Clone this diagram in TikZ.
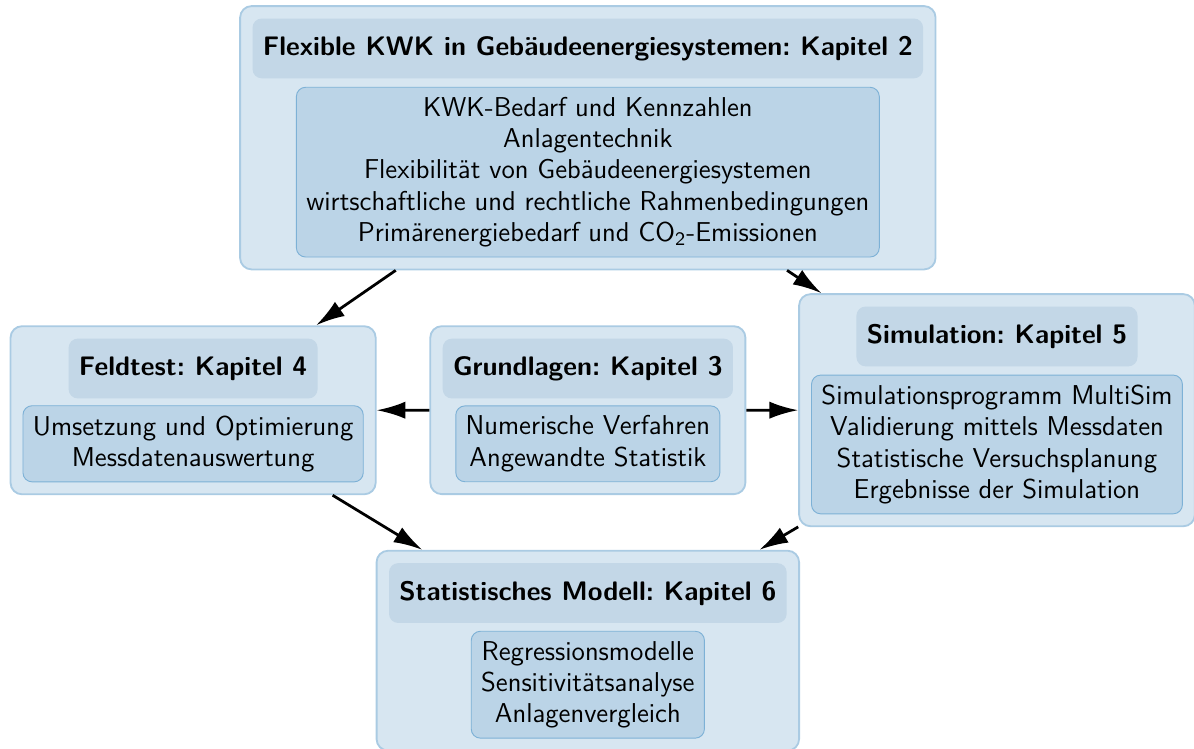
\documentclass[tikz,border=0pt]{standalone}
\usepackage{fontspec}
\usepackage{tikz}
\usetikzlibrary{arrows.meta,fit,backgrounds}
\definecolor{kapfill}{HTML}{D7E6F1}
\definecolor{kapline}{HTML}{AACBE3}
\definecolor{titfill}{HTML}{C3D7E7}
\definecolor{inhfill}{HTML}{BBD4E7}
\definecolor{inhline}{HTML}{7DB1D6}

\begin{document}
\begin{tikzpicture}[
    font=\sffamily\frenchspacing\fontsize{11.85}{13.6}\selectfont,
    kaptitel/.style={fill=titfill,rounded corners=4pt,inner xsep=4.5pt,minimum height=26pt,font=\sffamily\bfseries\frenchspacing\fontsize{11.65}{13.6}\selectfont},
    inhalt/.style={fill=inhfill,draw=inhline,rounded corners=4pt,inner sep=4.3pt,align=center},
    kapbox/.style={fill=kapfill,draw=kapline,line width=0.8pt,rounded corners=5pt,inner sep=5.2pt},
    pfeil/.style={-{Latex[length=12.5pt,width=7.5pt]},line width=1.2pt}]
    \useasboundingbox (0,0) rectangle (18.24,11.44);
    % ===== Kapitel 2 (oben) =====
    \node[kaptitel] (t2) at (8.98,10.70) {Flexible KWK in Gebäudeenergiesystemen: Kapitel 2};
    \node[inhalt] (i2) at (8.98,8.81) {KWK-Bedarf und Kennzahlen\\Anlagentechnik\\Flexibilität von Gebäudeenergiesystemen\\wirtschaftliche und rechtliche Rahmenbedingungen\\Primärenergiebedarf und CO\textsubscript{2}-Emissionen};
    % ===== Kapitel 4 (links) =====
    \node[kaptitel] (t4) at (2.95,5.81) {Feldtest: Kapitel 4};
    \node[inhalt] (i4) at (2.95,4.66) {Umsetzung und Optimierung\\Messdatenauswertung};
    % ===== Kapitel 3 (Mitte) =====
    \node[kaptitel] (t3) at (8.98,5.81) {Grundlagen: Kapitel 3};
    \node[inhalt] (i3) at (8.98,4.66) {Numerische Verfahren\\Angewandte Statistik};
    % ===== Kapitel 5 (rechts) =====
    \node[kaptitel] (t5) at (15.23,6.30) {Simulation: Kapitel 5};
    \node[inhalt] (i5) at (15.23,4.65) {Simulationsprogramm MultiSim\\Validierung mittels Messdaten\\Statistische Versuchsplanung\\Ergebnisse der Simulation};
    % ===== Kapitel 6 (unten) =====
    \node[kaptitel] (t6) at (8.98,2.38) {Statistisches Modell: Kapitel 6};
    \node[inhalt] (i6) at (8.98,0.98) {Regressionsmodelle\\Sensitivitätsanalyse\\Anlagenvergleich};
    % ===== Rahmen =====
    \begin{scope}[on background layer]
      \node[kapbox,fit=(t2)(i2)] (k2) {};
      \node[kapbox,fit=(t4)(i4)] (k4) {};
      \node[kapbox,fit=(t3)(i3)] (k3) {};
      \node[kapbox,fit=(t5)(i5)] (k5) {};
      \node[kapbox,fit=(t6)(i6)] (k6) {};
    \end{scope}
    % ===== Pfeile =====
    \draw[pfeil] (k2) -- (k4);
    \draw[pfeil] (k2) -- (k5);
    \draw[pfeil] (k3) -- (k4);
    \draw[pfeil] (k3) -- (k5);
    \draw[pfeil] (k4) -- (k6);
    \draw[pfeil] (k5) -- (k6);
\end{tikzpicture}
\end{document}
